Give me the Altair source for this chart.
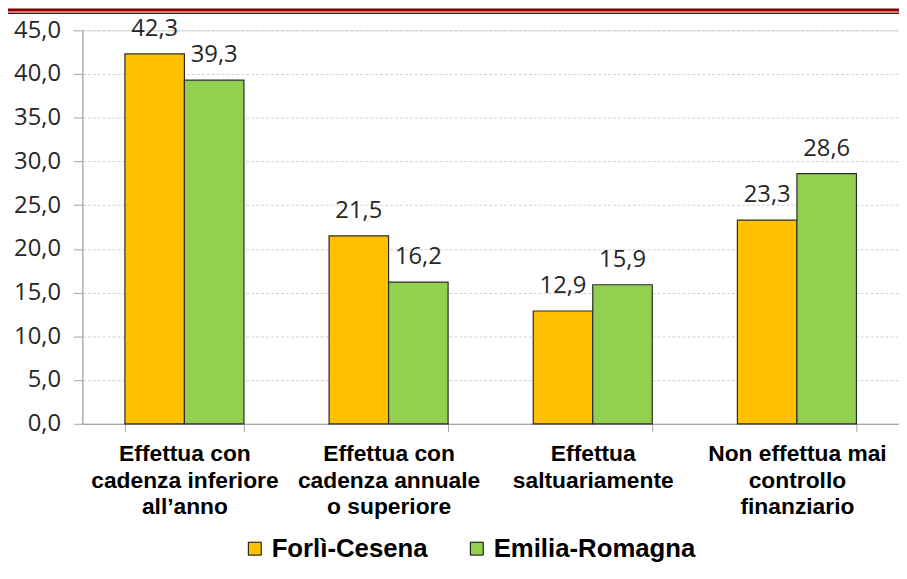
import altair as alt
import pandas as pd

categories = [
    "Effettua con|cadenza inferiore|all’anno",
    "Effettua con|cadenza annuale|o superiore",
    "Effettua|saltuariamente",
    "Non effettua mai|controllo|finanziario",
]
series = ["Forlì-Cesena", "Emilia-Romagna"]
forli = [42.3, 21.5, 12.9, 23.3]
emilia = [39.3, 16.2, 15.9, 28.6]
colors = ["#FFC000", "#92D050"]
y_ticks = [0, 5, 10, 15, 20, 25, 30, 35, 40, 45]

rows = []
for c, a, b in zip(categories, forli, emilia):
    rows.append({"cat": c, "serie": series[0], "v": a})
    rows.append({"cat": c, "serie": series[1], "v": b})
df = pd.DataFrame(rows)

W, H = 824, 397

base = alt.Chart(df).encode(
    x=alt.X(
        "cat:N",
        sort=categories,
        title=None,
        scale=alt.Scale(paddingInner=0.417, paddingOuter=0.2085),
        axis=alt.Axis(
            labelExpr="split(datum.label, '|')",
            labelAngle=0,
            labelLimit=0,
            labelFont="Liberation Sans",
            labelFontWeight="bold",
            labelFontSize=23,
            labelLineHeight=27,
            labelColor="#000000",
            labelPadding=11,
            labelBaseline="top",
            tickBand="extent",
            tickSize=8,
            tickColor="#A6A6A6",
            domainColor="#A6A6A6",
            domainWidth=1.3,
            grid=False,
        ),
    ),
    xOffset=alt.XOffset("serie:N", sort=series, scale=alt.Scale(paddingInner=0, paddingOuter=0)),
    y=alt.Y(
        "v:Q",
        title=None,
        scale=alt.Scale(domain=[0, 45], nice=False),
        axis=alt.Axis(
            values=y_ticks,
            labelExpr="replace(format(datum.value, '.1f'), '.', ',')",
            labelFont="Open Sans",
            labelFontSize=24,
            labelColor="#262626",
            labelPadding=13,
            tickSize=9,
            tickColor="#A6A6A6",
            domainColor="#A6A6A6",
            domainWidth=1.3,
            grid=True,
            gridColor="#D0D0D0",
            gridDash=[3, 2],
            gridWidth=1,
        ),
    ),
)

bars = base.mark_bar(stroke="#2b2b2b", strokeWidth=1.2).encode(
    color=alt.Color(
        "serie:N",
        sort=series,
        scale=alt.Scale(domain=series, range=colors),
        legend=alt.Legend(
            title=None,
            orient="none",
            direction="horizontal",
            legendX=161,
            legendY=510,
            symbolType="square",
            symbolSize=169,
            symbolStrokeColor="#000000",
            symbolStrokeWidth=1,
            labelFont="Liberation Sans",
            labelFontWeight="bold",
            labelFontSize=26,
            labelColor="#000000",
            labelLimit=0,
            labelOffset=4,
            columnPadding=36,
            padding=0,
        ),
    )
)

labels = base.transform_calculate(
    lab="replace(format(datum.v, '.1f'), '.', ',')"
).mark_text(
    font="Open Sans", fontSize=24, color="#262626", baseline="middle", dy=-25
).encode(text="lab:N")

deco = alt.Chart(pd.DataFrame({"k": [0]}))
rule1 = deco.mark_rule(color="#7F0000", strokeWidth=3).encode(
    x=alt.value(-75), x2=alt.value(W), y=alt.value(-20.5)
)
rule2 = deco.mark_rule(color="#7F0000", strokeWidth=1.5).encode(
    x=alt.value(-75), x2=alt.value(W), y=alt.value(-17.25)
)

chart = (
    alt.layer(bars, labels, rule1, rule2)
    .properties(
        width=W,
        height=H,
        autosize=alt.AutoSizeParams(type="none"),
        padding={"left": 75, "top": 20, "right": 0, "bottom": 143},
    )
    .configure_view(stroke=None)
    .configure(background="#FFFFFF")
)

chart.save("out.html", embed_options={"renderer": "svg", "actions": False})
